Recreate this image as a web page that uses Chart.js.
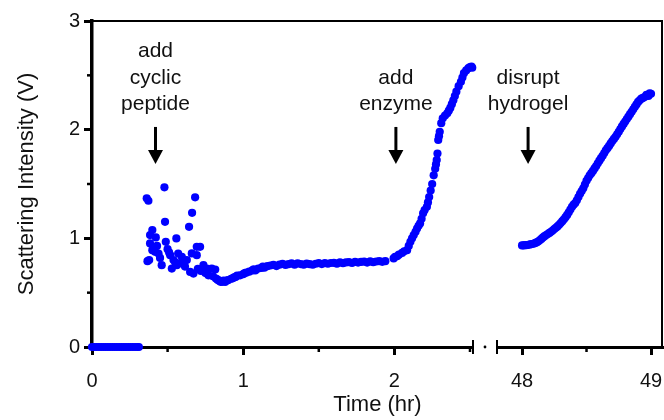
<!DOCTYPE html>
<html>
<head>
<meta charset="utf-8">
<script src="https://cdn.jsdelivr.net/npm/chart.js@4.4.1/dist/chart.umd.min.js"></script>
<style>
  html, body { margin: 0; padding: 0; background: #fff; }
  #chart { display: block; }
</style>
</head>
<body>
<canvas id="chart" width="664" height="420"></canvas>
<script>
/* data: [time (hr), scattering intensity (V)] */
const BASELINE_POINTS = [
  [0, 0], [0.015, 0], [0.03, 0], [0.045, 0], [0.06, 0], [0.075, 0], [0.09, 0], [0.105, 0],
  [0.12, 0], [0.135, 0], [0.15, 0], [0.165, 0], [0.18, 0], [0.195, 0], [0.21, 0], [0.225, 0],
  [0.24, 0], [0.255, 0], [0.27, 0], [0.285, 0], [0.3, 0], [0.31, 0],
];

const PEPTIDE_POINTS = [
  [0.362, 1.368], [0.373, 1.346], [0.367, 0.79], [0.378, 0.8], [0.384, 1.03], [0.384, 0.953],
  [0.399, 1.076], [0.399, 0.891], [0.417, 0.876], [0.422, 1.008], [0.43, 0.93], [0.44, 0.86],
  [0.45, 0.82], [0.461, 0.753], [0.479, 1.469], [0.483, 1.152], [0.488, 0.968], [0.5, 0.9],
  [0.51, 0.87], [0.517, 0.845], [0.528, 0.722], [0.539, 0.8], [0.55, 0.78], [0.558, 0.999],
  [0.561, 0.753], [0.57, 0.86], [0.58, 0.77], [0.594, 0.83], [0.605, 0.768], [0.615, 0.74],
  [0.627, 0.8], [0.642, 1.106], [0.649, 0.691], [0.66, 0.861], [0.662, 1.235], [0.671, 0.676],
  [0.682, 1.377], [0.693, 0.922], [0.693, 0.845], [0.7, 0.72], [0.715, 0.922], [0.72, 0.7],
  [0.737, 0.753], [0.75, 0.68], [0.759, 0.722], [0.77, 0.66], [0.792, 0.722], [0.8, 0.65],
  [0.815, 0.713], [0.82, 0.63], [0.83, 0.62], [0.84, 0.61], [0.85, 0.6],
];

const PLATEAU_POINTS = [
  [0.86, 0.6], [0.87, 0.61], [0.88, 0.598], [0.89, 0.612], [0.9, 0.615], [0.92, 0.628],
  [0.93, 0.632], [0.94, 0.64], [0.95, 0.645], [0.96, 0.656], [0.98, 0.66], [1.0, 0.67],
  [1.01, 0.68], [1.02, 0.684], [1.04, 0.693], [1.06, 0.705], [1.07, 0.714], [1.08, 0.705],
  [1.1, 0.722], [1.12, 0.728], [1.13, 0.74], [1.14, 0.73], [1.16, 0.744], [1.18, 0.75],
  [1.2, 0.755], [1.22, 0.745], [1.24, 0.758], [1.26, 0.765], [1.28, 0.755], [1.3, 0.762],
  [1.32, 0.77], [1.34, 0.758], [1.36, 0.77], [1.38, 0.763], [1.4, 0.758], [1.42, 0.768],
  [1.44, 0.762], [1.46, 0.757], [1.48, 0.766], [1.5, 0.772], [1.52, 0.763], [1.54, 0.772],
  [1.56, 0.766], [1.58, 0.773], [1.6, 0.775], [1.62, 0.767], [1.64, 0.778], [1.66, 0.771],
  [1.68, 0.778], [1.7, 0.781], [1.72, 0.773], [1.74, 0.783], [1.76, 0.777], [1.78, 0.783],
  [1.8, 0.786], [1.82, 0.777], [1.84, 0.788], [1.86, 0.781], [1.88, 0.787], [1.9, 0.79],
  [1.92, 0.784], [1.94, 0.79],
];

const ENZYME_POINTS = [
  [1.995, 0.815], [2.005, 0.83], [2.018, 0.835], [2.03, 0.85], [2.051, 0.866], [2.065, 0.88],
  [2.084, 0.891], [2.095, 0.93], [2.106, 0.968], [2.117, 1.0], [2.128, 1.03], [2.14, 1.06],
  [2.15, 1.09], [2.16, 1.115], [2.17, 1.137], [2.18, 1.18], [2.19, 1.23], [2.2, 1.26],
  [2.215, 1.29], [2.222, 1.33], [2.23, 1.38], [2.24, 1.44], [2.25, 1.5], [2.26, 1.58],
  [2.27, 1.64], [2.275, 1.68], [2.28, 1.72], [2.285, 1.78], [2.29, 1.905], [2.295, 1.94],
  [2.3, 1.98], [2.31, 2.06], [2.32, 2.105], [2.335, 2.13], [2.35, 2.15], [2.36, 2.175],
  [2.37, 2.2], [2.38, 2.235], [2.39, 2.27], [2.4, 2.31], [2.41, 2.35], [2.425, 2.4],
  [2.44, 2.44], [2.45, 2.48], [2.46, 2.52], [2.475, 2.545], [2.49, 2.566], [2.5, 2.575],
  [2.51, 2.58], [2.515, 2.57],
];

const HYDROGEL_POINTS = [
  [48.0, 0.935], [48.0125, 0.935], [48.025, 0.937], [48.0375, 0.938], [48.05, 0.94],
  [48.0625, 0.944], [48.075, 0.947], [48.0875, 0.95], [48.1, 0.955], [48.1125, 0.962],
  [48.125, 0.97], [48.1375, 0.982], [48.15, 0.995], [48.1625, 1.008], [48.175, 1.02],
  [48.1875, 1.03], [48.2, 1.04], [48.2125, 1.05], [48.225, 1.06], [48.2375, 1.072],
  [48.25, 1.085], [48.2625, 1.097], [48.275, 1.11], [48.2875, 1.125], [48.3, 1.14],
  [48.3125, 1.158], [48.325, 1.175], [48.3375, 1.195], [48.35, 1.215], [48.3625, 1.24],
  [48.375, 1.265], [48.3875, 1.29], [48.4, 1.31], [48.4125, 1.325], [48.425, 1.35],
  [48.4375, 1.38], [48.45, 1.41], [48.4625, 1.435], [48.475, 1.46], [48.4875, 1.495],
  [48.5, 1.53], [48.5125, 1.555], [48.525, 1.58], [48.5375, 1.6], [48.55, 1.62],
  [48.5625, 1.643], [48.575, 1.665], [48.5875, 1.69], [48.6, 1.715], [48.6125, 1.738],
  [48.625, 1.76], [48.6375, 1.785], [48.65, 1.81], [48.6625, 1.83], [48.675, 1.85],
  [48.6875, 1.873], [48.7, 1.895], [48.7125, 1.915], [48.725, 1.935], [48.7375, 1.958],
  [48.75, 1.98], [48.7625, 2.005], [48.775, 2.03], [48.7875, 2.053], [48.8, 2.075],
  [48.8125, 2.098], [48.825, 2.12], [48.8375, 2.143], [48.85, 2.165], [48.8625, 2.188],
  [48.875, 2.21], [48.8875, 2.232], [48.9, 2.255], [48.9125, 2.27], [48.925, 2.285],
  [48.9375, 2.292], [48.95, 2.3], [48.965, 2.32], [48.98, 2.31], [48.99, 2.335], [49.0, 2.33],
];

const LEFT_TICKS = [0, 0.5, 1, 1.5, 2, 2.5];
const RIGHT_TICKS = [48, 48.5, 49];
const Y_TICKS = [0, 0.5, 1, 1.5, 2, 2.5, 3];

const LEFT_RANGE = [0, 2.52];
const RIGHT_RANGE = [47.806, 49.093];
const Y_RANGE = [0, 3];

const ANNOTATIONS = [
  { lines: ['add', 'cyclic', 'peptide'], axis: 'x', time: 0.42 },
  { lines: ['add', 'enzyme'], axis: 'x', time: 2.01 },
  { lines: ['disrupt', 'hydrogel'], axis: 'x2', time: 48.047 },
];

/* styling */
const FONT_FAMILY = "'Liberation Sans', Arial, sans-serif";
const DOT_COLOR = '#0000ff';
const INK = '#111';

const toXY = (points) => points.map(([x, y]) => ({ x, y }));
const isMajor = (value) => Number.isInteger(value);
const tickLabel = (value) => (isMajor(value) ? String(value) : '');
const setTicks = (values) => (scale) => {
  scale.ticks = values.map((value) => ({ value }));
};
const fixHeight = (height) => (scale) => {
  scale.height = height;
  scale.paddingLeft = 0;
  scale.paddingRight = 0;
};

const dotDataset = (points, axis) => ({
  data: toXY(points),
  xAxisID: axis,
  yAxisID: 'y',
  backgroundColor: DOT_COLOR,
  borderWidth: 0,
  pointRadius: 4.1,
  clip: false,
});

const tickGrid = {
  display: true,
  drawOnChartArea: false,
  drawTicks: true,
  tickLength: 8,
  tickWidth: 3,
  tickColor: (c) => (c.tick && isMajor(c.tick.value) ? '#000' : 'rgba(0,0,0,0)'),
};

const tickFont = { family: FONT_FAMILY, size: 20 };

/* plugin: frame, minor ticks, axis break, annotations */
const decorations = {
  id: 'decorations',
  afterDraw(chart) {
    const { ctx, chartArea, scales } = chart;
    const { left, right, top, bottom } = chartArea;
    ctx.save();
    ctx.strokeStyle = '#000';
    ctx.fillStyle = '#000';

    // top and right frame
    ctx.lineWidth = 2;
    ctx.beginPath();
    ctx.moveTo(left, top);
    ctx.lineTo(right - 1, top);
    ctx.lineTo(right - 1, bottom);
    ctx.stroke();

    // minor ticks
    ctx.lineWidth = 2.5;
    for (const id of ['x', 'x2']) {
      const scale = scales[id];
      scale.ticks.filter((t) => !isMajor(t.value)).forEach((t) => {
        const px = scale.getPixelForValue(t.value);
        ctx.beginPath();
        ctx.moveTo(px, bottom);
        ctx.lineTo(px, bottom + 5);
        ctx.stroke();
      });
    }
    scales.y.ticks.filter((t) => !isMajor(t.value)).forEach((t) => {
      const py = scales.y.getPixelForValue(t.value);
      ctx.beginPath();
      ctx.moveTo(left - 5, py);
      ctx.lineTo(left, py);
      ctx.stroke();
    });

    // axis break
    const breakLeft = scales.x.right;
    const breakRight = scales.x2.left;
    ctx.lineWidth = 2;
    [breakLeft, breakRight].forEach((px) => {
      ctx.beginPath();
      ctx.moveTo(px, bottom - 7);
      ctx.lineTo(px, bottom + 7);
      ctx.stroke();
    });
    ctx.beginPath();
    ctx.arc((breakLeft + breakRight) / 2, bottom, 1.4, 0, Math.PI * 2);
    ctx.fill();

    // annotations
    const y = scales.y;
    ctx.font = '21px ' + FONT_FAMILY;
    ctx.textAlign = 'center';
    ctx.textBaseline = 'alphabetic';
    ANNOTATIONS.forEach((note) => {
      const px = scales[note.axis].getPixelForValue(note.time);
      const lastBaseline = y.getPixelForValue(2.18);
      ctx.fillStyle = INK;
      note.lines.forEach((line, i) => {
        const offset = (note.lines.length - 1 - i) * 26.5;
        ctx.fillText(line, px, lastBaseline - offset);
      });

      const arrowTop = y.getPixelForValue(2.025);
      const arrowTip = y.getPixelForValue(1.684);
      ctx.lineWidth = 3;
      ctx.beginPath();
      ctx.moveTo(px, arrowTop);
      ctx.lineTo(px, arrowTip - 12);
      ctx.stroke();
      ctx.fillStyle = '#000';
      ctx.beginPath();
      ctx.moveTo(px - 7.5, arrowTip - 14);
      ctx.lineTo(px + 7.5, arrowTip - 14);
      ctx.lineTo(px, arrowTip);
      ctx.closePath();
      ctx.fill();
    });

    ctx.restore();
  },
};

const element = document.querySelector('#chart');

new Chart(element, {
  type: 'scatter',
  data: {
    datasets: [
      dotDataset(BASELINE_POINTS, 'x'),
      dotDataset(PEPTIDE_POINTS, 'x'),
      dotDataset(PLATEAU_POINTS, 'x'),
      dotDataset(ENZYME_POINTS, 'x'),
      dotDataset(HYDROGEL_POINTS, 'x2'),
    ],
  },
  options: {
    responsive: false,
    animation: false,
    events: [],
    devicePixelRatio: 1,
    layout: {
      autoPadding: false,
      padding: { left: 0, right: 1, top: 21, bottom: 0 },
    },
    plugins: {
      legend: { display: false },
      tooltip: { enabled: false },
      title: {
        display: true,
        text: 'Time (hr)',
        position: 'bottom',
        fullSize: false,
        color: INK,
        font: { family: FONT_FAMILY, size: 22, weight: 'normal' },
        padding: { top: 0, bottom: 2 },
      },
    },
    scales: {
      x: {
        type: 'linear',
        position: 'bottom',
        stack: 'time',
        stackWeight: 381,
        min: LEFT_RANGE[0],
        max: LEFT_RANGE[1],
        afterBuildTicks: setTicks(LEFT_TICKS),
        afterFit: fixHeight(44.6),
        grid: tickGrid,
        border: { display: true, color: '#000', width: 3 },
        ticks: { color: INK, padding: 14, maxRotation: 0, autoSkip: false, font: tickFont, callback: tickLabel },
      },
      xgap: {
        type: 'linear',
        position: 'bottom',
        stack: 'time',
        stackWeight: 24,
        min: 0,
        max: 1,
        afterFit: fixHeight(44.6),
        grid: { display: false },
        border: { display: false },
        ticks: { display: false },
      },
      x2: {
        type: 'linear',
        position: 'bottom',
        stack: 'time',
        stackWeight: 166,
        min: RIGHT_RANGE[0],
        max: RIGHT_RANGE[1],
        afterBuildTicks: setTicks(RIGHT_TICKS),
        afterFit: fixHeight(44.6),
        grid: tickGrid,
        border: { display: true, color: '#000', width: 3 },
        ticks: { color: INK, padding: 14, maxRotation: 0, autoSkip: false, font: tickFont, callback: tickLabel },
      },
      y: {
        type: 'linear',
        position: 'left',
        min: Y_RANGE[0],
        max: Y_RANGE[1],
        afterBuildTicks: setTicks(Y_TICKS),
        afterFit: (scale) => {
          scale.width = 92;
          scale.paddingTop = 0;
          scale.paddingBottom = 0;
        },
        grid: tickGrid,
        border: { display: true, color: '#000', width: 3.5 },
        title: {
          display: true,
          text: 'Scattering Intensity (V)',
          color: INK,
          font: { family: FONT_FAMILY, size: 22 },
          padding: { top: 14, bottom: 0 },
        },
        ticks: { color: INK, padding: 4, font: tickFont, callback: tickLabel },
      },
    },
  },
  plugins: [decorations],
});
</script>
</body>
</html>
